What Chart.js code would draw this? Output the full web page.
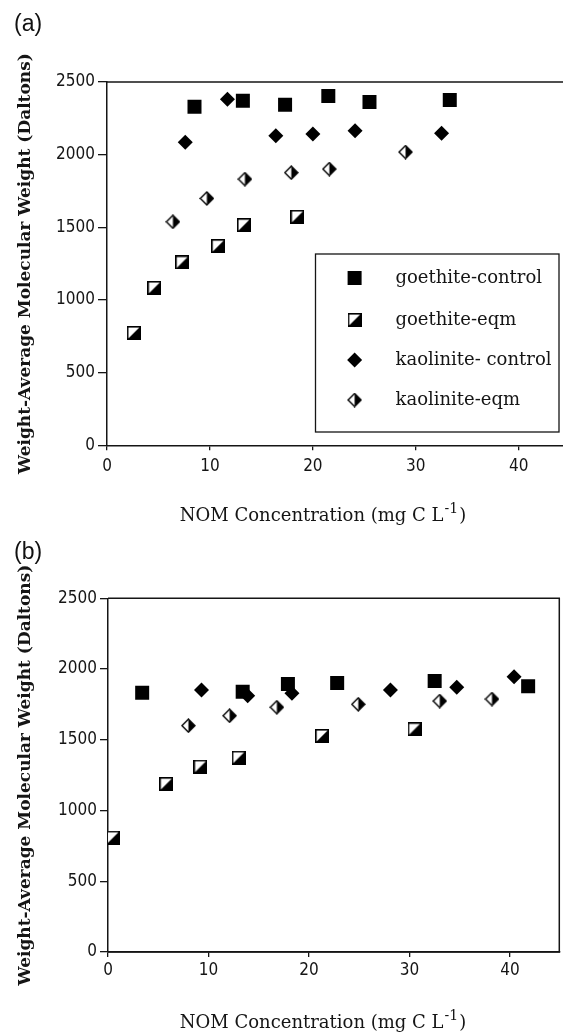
<!DOCTYPE html>
<html>
<head>
<meta charset="utf-8">
<script src="https://cdn.jsdelivr.net/npm/chart.js@4.4.1/dist/chart.umd.min.js"></script>
<style>
html, body { margin: 0; padding: 0; background: #fff; }
#wrap { position: relative; width: 563px; height: 1032px; overflow: hidden; }
.panel { position: absolute; left: 0; width: 563px; }
#pa { top: 0; height: 530px; }
#pb { top: 530px; height: 502px; }
.tag { position: absolute; left: 14px; font-family: 'Liberation Sans', Arial, sans-serif; font-size: 23px; line-height: 23px; color: #111; }
</style>
</head>
<body>
<div id="wrap">
  <div class="panel" id="pa"><canvas id="chartA" width="563" height="530"></canvas></div>
  <div class="panel" id="pb"><canvas id="chartB" width="563" height="502"></canvas></div>
  <div class="tag" style="top:12px">(a)</div>
  <div class="tag" style="top:540px">(b)</div>
</div>
<script>
// series labels
var seriesNames = ['goethite-control', 'goethite-eqm', 'kaolinite- control', 'kaolinite-eqm'];

// panel (a) - NOM concentration (mg C/L) vs weight-average MW
var gcXa = [8.5, 13.2, 17.3, 21.5, 25.5, 33.3];
var gcYa = [2330, 2371, 2344, 2404, 2362, 2376];
var geXa = [2.6, 4.6, 7.3, 10.8, 13.3, 18.5];
var geYa = [773, 1083, 1258, 1371, 1515, 1572];
var kcXa = [7.6, 11.7, 16.4, 20.0, 24.1, 32.5];
var kcYa = [2085, 2381, 2130, 2142, 2164, 2147];
var keXa = [6.4, 9.7, 13.4, 17.9, 21.6, 29.0];
var keYa = [1538, 1699, 1832, 1876, 1901, 2018];

// panel (b)
var gcXb = [3.4, 13.4, 17.9, 22.8, 32.5, 41.8];
var gcYb = [1833, 1840, 1894, 1901, 1916, 1878];
var geXb = [0.5, 5.8, 9.2, 13.0, 21.3, 30.5];
var geYb = [808, 1187, 1310, 1373, 1527, 1574];
var kcXb = [9.3, 13.9, 18.3, 28.1, 34.7, 40.4];
var kcYb = [1852, 1812, 1829, 1852, 1871, 1946];
var keXb = [8.0, 12.1, 16.8, 24.9, 33.0, 38.2];
var keYb = [1600, 1670, 1730, 1751, 1774, 1788];

// ticks
var xTicks = [0, 10, 20, 30, 40];
var yTicks = [0, 500, 1000, 1500, 2000, 2500];

var ink = '#151515';
var tickFont = { family: "'Liberation Sans Narrow', 'DejaVu Sans Condensed', 'Liberation Sans', sans-serif", size: 17 };

// half filled markers
function halfSquare(n) {
  var c = document.createElement('canvas');
  c.width = n; c.height = n;
  var g = c.getContext('2d');
  g.fillStyle = '#fff';
  g.fillRect(0, 0, n, n);
  g.fillStyle = '#000';
  g.beginPath();
  g.moveTo(n, 0); g.lineTo(n, n); g.lineTo(0, n);
  g.closePath();
  g.fill();
  g.strokeStyle = '#000';
  g.lineWidth = 1.6;
  g.strokeRect(0.8, 0.8, n - 1.6, n - 1.6);
  return c;
}
function halfDiamond(n) {
  var c = document.createElement('canvas');
  c.width = n; c.height = n;
  var g = c.getContext('2d');
  var m = n / 2, e = 1;
  g.fillStyle = '#fff';
  g.beginPath();
  g.moveTo(m, e); g.lineTo(e, m); g.lineTo(m, n - e);
  g.closePath();
  g.fill();
  g.fillStyle = '#000';
  g.beginPath();
  g.moveTo(m, e); g.lineTo(n - e, m); g.lineTo(m, n - e);
  g.closePath();
  g.fill();
  g.strokeStyle = '#000';
  g.lineWidth = 1.4;
  g.beginPath();
  g.moveTo(m, e); g.lineTo(n - e, m); g.lineTo(m, n - e); g.lineTo(e, m);
  g.closePath();
  g.stroke();
  return c;
}
var sqHalf = halfSquare(14);
var diaHalf = halfDiamond(15);

function pts(xs, ys) {
  return xs.map(function (x, i) { return { x: x, y: ys[i] }; });
}

function makeSets(gcX, gcY, geX, geY, kcX, kcY, keX, keY) {
  var base = { backgroundColor: '#000', borderColor: '#000', borderWidth: 0, showLine: false };
  return [
    Object.assign({ label: seriesNames[0], data: pts(gcX, gcY), pointStyle: 'rect', pointRadius: 9.9, pointHoverRadius: 9.9 }, base),
    Object.assign({ label: seriesNames[1], data: pts(geX, geY), pointStyle: sqHalf, pointRadius: 7, pointHoverRadius: 7 }, base),
    Object.assign({ label: seriesNames[2], data: pts(kcX, kcY), pointStyle: 'rectRot', pointRadius: 7.5, pointHoverRadius: 7.5 }, base),
    Object.assign({ label: seriesNames[3], data: pts(keX, keY), pointStyle: diaHalf, pointRadius: 7.5, pointHoverRadius: 7.5 }, base)
  ];
}

// frame around plot area + x title with superscript + boxed legend
var framePlugin = {
  id: 'frame',
  afterDraw: function (chart, args, o) {
    var ctx = chart.ctx, a = chart.chartArea;
    ctx.save();
    ctx.strokeStyle = ink;
    ctx.lineWidth = 1.5;
    ctx.beginPath();
    ctx.moveTo(a.left, a.top);
    ctx.lineTo(a.right, a.top);
    if (o.rightSide) {
      ctx.lineTo(a.right, a.bottom);
      ctx.lineTo(a.left, a.bottom);
    }
    ctx.stroke();

    // x title
    var main = 'NOM Concentration (mg C L', sup = '-1', tail = ')';
    var fMain = '18px "DejaVu Serif", serif', fSup = '14px "DejaVu Serif", serif';
    ctx.font = fMain;
    var w1 = ctx.measureText(main).width, w3 = ctx.measureText(tail).width;
    ctx.font = fSup;
    var w2 = ctx.measureText(sup).width;
    var x0 = o.titleX - (w1 + w2 + w3) / 2, by = a.bottom + o.titleDy;
    ctx.fillStyle = ink;
    ctx.textBaseline = 'alphabetic';
    ctx.textAlign = 'left';
    ctx.font = fMain;
    ctx.fillText(main, x0, by);
    ctx.font = fSup;
    ctx.fillText(sup, x0 + w1 + 1, by - 8);
    ctx.font = fMain;
    ctx.fillText(tail, x0 + w1 + w2 + 2, by);

    // legend
    if (o.legend) {
      var L = o.legend;
      ctx.fillStyle = '#fff';
      ctx.fillRect(L.left, L.top, L.right - L.left, L.bottom - L.top);
      ctx.strokeStyle = ink;
      ctx.lineWidth = 1.3;
      ctx.strokeRect(L.left, L.top, L.right - L.left, L.bottom - L.top);
      chart.data.datasets.forEach(function (ds, i) {
        var y = L.rows[i];
        ctx.fillStyle = '#000';
        ctx.strokeStyle = '#000';
        Chart.helpers.drawPoint(ctx, { pointStyle: ds.pointStyle, radius: ds.pointRadius, rotation: 0, borderWidth: 0 }, L.markX, y);
        ctx.fillStyle = ink;
        ctx.font = '18px "DejaVu Serif", serif';
        ctx.textBaseline = 'middle';
        ctx.fillText(ds.label, L.textX, y);
      });
    }
    ctx.restore();
  }
};

function makeChart(id, sets, cfg) {
  return new Chart(document.getElementById(id), {
    type: 'scatter',
    data: { datasets: sets },
    plugins: [framePlugin],
    options: {
      responsive: false,
      animation: false,
      events: [],
      layout: { autoPadding: false, padding: { left: 0, right: cfg.padRight, top: cfg.padTop, bottom: cfg.padBottom } },
      plugins: {
        legend: { display: false },
        tooltip: { enabled: false },
        frame: { titleX: cfg.titleX, titleDy: 76, legend: cfg.legend, rightSide: cfg.rightSide }
      },
      scales: {
        x: {
          type: 'linear', min: 0, max: cfg.xMax,
          afterBuildTicks: function (s) { s.ticks = xTicks.map(function (v) { return { value: v }; }); },
          afterFit: function (s) { s.height = cfg.xHeight; s.paddingLeft = 0; s.paddingRight = 0; },
          grid: { drawOnChartArea: false, drawTicks: true, tickLength: 5, color: ink, lineWidth: 1.3 },
          border: { display: true, color: ink, width: 1.5 },
          ticks: { font: tickFont, color: ink, padding: cfg.xPad, maxRotation: 0, autoSkip: false }
        },
        y: {
          type: 'linear', min: 0, max: 2500,
          afterBuildTicks: function (s) { s.ticks = yTicks.map(function (v) { return { value: v }; }); },
          afterFit: function (s) { s.width = cfg.yWidth; s.paddingTop = 0; s.paddingBottom = 0; },
          grid: { drawOnChartArea: false, drawTicks: true, tickLength: cfg.yTick, color: ink, lineWidth: 1.3 },
          border: { display: true, color: ink, width: 1.5 },
          ticks: { font: tickFont, color: ink, padding: 3, autoSkip: false, callback: function (v) { return String(v); } },
          title: {
            display: true,
            text: 'Weight-Average Molecular Weight (Daltons)',
            font: { family: "'DejaVu Serif', serif", weight: 'bold', size: 17 },
            color: ink,
            padding: { top: 15, bottom: 0 }
          }
        }
      }
    }
  });
}

makeChart('chartA', makeSets(gcXa, gcYa, geXa, geYa, kcXa, kcYa, keXa, keYa), {
  xMax: 44.3, yWidth: 107, xHeight: 80, padTop: 82, padBottom: 4.7, padRight: 0,
  xPad: 6, yTick: 9, titleX: 322, rightSide: false,
  legend: { left: 315.5, top: 254, right: 559, bottom: 432, markX: 354.6, textX: 395.5, rows: [278, 320, 360, 400] }
});

makeChart('chartB', makeSets(gcXb, gcYb, geXb, geYb, kcXb, kcYb, keXb, keYb), {
  xMax: 44.9, yWidth: 108, xHeight: 76, padTop: 68.3, padBottom: 4, padRight: 3.7,
  xPad: 3, yTick: 8, titleX: 322, rightSide: true,
  legend: null
});
</script>
</body>
</html>
